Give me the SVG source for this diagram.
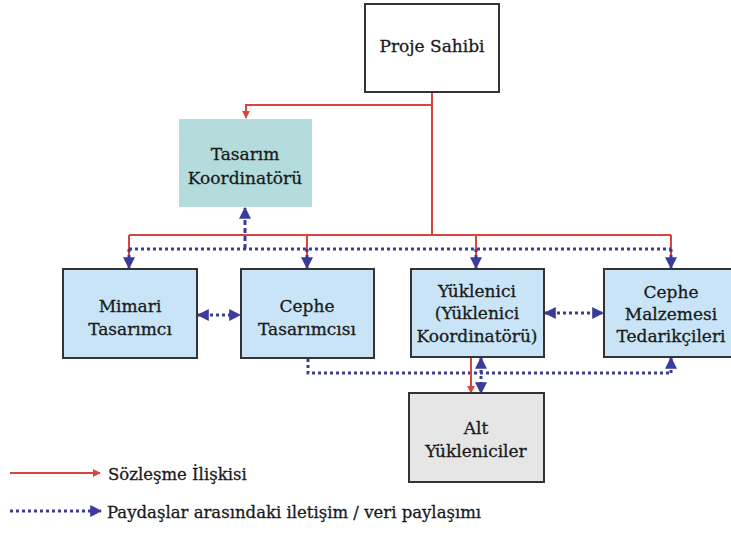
<svg xmlns="http://www.w3.org/2000/svg" width="731" height="533" viewBox="0 0 731 533">
<style>
text{font-family:"DejaVu Serif",serif;font-size:17px;fill:#1a1a1a;text-anchor:middle;stroke:#1a1a1a;stroke-width:0.3}
.leg{font-size:16.5px;text-anchor:start}
.box{stroke:#333;stroke-width:2}
.blue{fill:#c8e4f6}
.red{fill:none;stroke:#d8453e;stroke-width:2}
.dot{fill:none;stroke:#3b3b9b;stroke-width:3;stroke-dasharray:3 3}
.dash{fill:none;stroke:#3b3b9b;stroke-width:3;stroke-dasharray:5 3}
</style>
<defs>
<marker id="ar" viewBox="0 0 10 10" refX="9" refY="5" markerWidth="4" markerHeight="4" orient="auto-start-reverse" markerUnits="strokeWidth">
<path d="M0,0 L10,5 L0,10 z" fill="#d8453e"/>
</marker>
<marker id="ab" viewBox="0 0 10 10" refX="9" refY="5" markerWidth="4" markerHeight="4" orient="auto-start-reverse" markerUnits="strokeWidth">
<path d="M0,0 L10,5 L0,10 z" fill="#3b3b9b"/>
</marker>
</defs>
<rect width="731" height="533" fill="#fff"/>

<g id="connectors">
<path class="red" d="M432,92 V235"/>
<path class="red" d="M432,105 H246 V118" marker-end="url(#ar)"/>
<path class="red" d="M129,235 H671"/>
<path class="red" d="M129,235 V262 M307,235 V262 M476,235 V262 M671,235 V262"/>
<path class="dot" d="M129,249 H671"/>
<path class="dot" d="M129,249 V268" marker-end="url(#ab)"/>
<path class="dot" d="M307,249 V268" marker-end="url(#ab)"/>
<path class="dot" d="M476,249 V268" marker-end="url(#ab)"/>
<path class="dot" d="M671,249 V268" marker-end="url(#ab)"/>
<path class="dash" d="M245,249 V208" marker-end="url(#ab)"/>
<path class="dot" d="M198,315 H240" marker-start="url(#ab)" marker-end="url(#ab)"/>
<path class="dot" d="M545,313 H603" marker-start="url(#ab)" marker-end="url(#ab)"/>
<path class="dot" d="M308,359 V373 H671"/>
<path class="dot" d="M671,373 V358" marker-end="url(#ab)"/>
<path class="red" d="M471,358 V393" marker-end="url(#ar)"/>
<path class="dot" d="M481,358 V393" marker-start="url(#ab)" marker-end="url(#ab)"/>
<path class="red" d="M10,473 H100" marker-end="url(#ar)"/>
<path class="dot" d="M10,511 H101" marker-end="url(#ab)"/>
</g>

<g id="proje-sahibi">
<rect class="box" x="365" y="4" width="134" height="88" fill="#fff"/>
<text x="432" y="52">Proje Sahibi</text>
</g>
<g id="tasarim-koordinatoru">
<rect x="179" y="119" width="133" height="88" fill="#b4dcdc"/>
<text x="245" y="160">Tasarım</text>
<text x="245" y="184">Koordinatörü</text>
</g>
<g id="mimari-tasarimci">
<rect class="box blue" x="63" y="269" width="134" height="89"/>
<text x="130" y="312">Mimari</text>
<text x="130" y="335">Tasarımcı</text>
</g>
<g id="cephe-tasarimcisi">
<rect class="box blue" x="241" y="269" width="133" height="89"/>
<text x="307" y="312">Cephe</text>
<text x="307" y="335">Tasarımcısı</text>
</g>
<g id="yuklenici">
<rect class="box blue" x="411" y="269" width="133" height="88"/>
<text x="477" y="297">Yüklenici</text>
<text x="477" y="319">(Yüklenici</text>
<text x="477" y="342">Koordinatörü)</text>
</g>
<g id="cephe-malzemesi">
<rect class="box blue" x="604" y="269" width="134" height="88"/>
<text x="671" y="298">Cephe</text>
<text x="671" y="320">Malzemesi</text>
<text x="671" y="342">Tedarikçileri</text>
</g>
<g id="alt-yukleniciler">
<rect class="box" x="409" y="393" width="135" height="89" fill="#e6e6e6"/>
<text x="476" y="434">Alt</text>
<text x="476" y="457">Yükleniciler</text>
</g>
<g id="legend">
<text class="leg" x="108" y="480">Sözleşme İlişkisi</text>
<text class="leg" x="107" y="518">Paydaşlar arasındaki iletişim / veri paylaşımı</text>
</g>
</svg>
